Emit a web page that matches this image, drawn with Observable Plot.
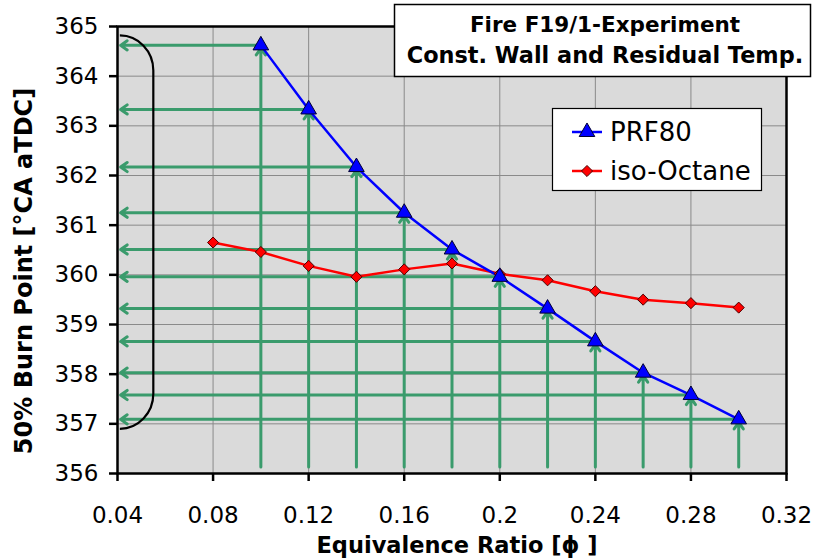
<!DOCTYPE html>
<html>
<head>
<meta charset="utf-8">
<script src="https://cdn.jsdelivr.net/npm/d3@7"></script>
<script src="https://cdn.jsdelivr.net/npm/@observablehq/plot@0.6"></script>
<style>
  html, body { margin: 0; padding: 0; background: #fff; }
  #wrap { position: relative; width: 813px; height: 558px; overflow: hidden; }
  #wrap > svg { position: absolute; left: 0; top: 0; }
</style>
</head>
<body>
<div id="wrap"></div>
<script>
// ---- data ----
const prfPhi = [0.10, 0.12, 0.14, 0.16, 0.18, 0.20, 0.22, 0.24, 0.26, 0.28, 0.30];
const prf80 = [364.62, 363.33, 362.17, 361.25, 360.51, 359.96, 359.32, 358.66, 358.03, 357.58, 357.09];
const isoPhi = [0.08, 0.10, 0.12, 0.14, 0.16, 0.18, 0.20, 0.22, 0.24, 0.26, 0.28, 0.30];
const isoOctane = [360.65, 360.46, 360.18, 359.96, 360.11, 360.23, 360.02, 359.89, 359.67, 359.50, 359.43, 359.34];
const xTicks = [0.04, 0.08, 0.12, 0.16, 0.20, 0.24, 0.28, 0.32];
const yTicks = [356, 357, 358, 359, 360, 361, 362, 363, 364, 365];
const seriesNames = ["PRF80", "iso-Octane"];
const titleLines = ["Fire F19/1-Experiment", "Const. Wall and Residual Temp."];
const xLabel = "Equivalence Ratio [\u03D5 ]";
const yLabel = "50% Burn Point [\u00B0CA aTDC]";
// annotation extents (data units)
const arrowBaseY = 356.13;   // start of vertical arrows
const arrowTipX = 0.0413;    // end of horizontal arrows
const bracketTop = 364.81, bracketBottom = 356.89, bracketLeft = 0.0412, bracketRight = 0.0552;

const prfData = prfPhi.map((x, i) => ({x, y: prf80[i]}));
const isoData = isoPhi.map((x, i) => ({x, y: isoOctane[i]}));

const green = "#3a9b6c";
const FONT = "DejaVu Sans, sans-serif";

const bracketMark = Plot.dot([0], {
  x: () => 0, y: () => 0,
  render: (I, scales) => {
    const {x, y} = scales;
    const x0 = x(bracketLeft), x1 = x(bracketRight);
    const yt = y(bracketTop), yb = y(bracketBottom);
    const rx = x1 - x0, ry = 35;
    const p = d3.path();
    p.moveTo(x0, yt);
    p.bezierCurveTo(x0 + rx * 0.55, yt, x1, yt + ry * 0.45, x1, yt + ry);
    p.lineTo(x1, yb - ry);
    p.bezierCurveTo(x1, yb - ry * 0.45, x0 + rx * 0.55, yb, x0, yb);
    return d3.create("svg:path")
      .attr("d", p.toString())
      .attr("fill", "none")
      .attr("stroke", "#000")
      .attr("stroke-width", 2.2)
      .node();
  }
});

const chart = Plot.plot({
  width: 813,
  height: 558,
  marginLeft: 117,
  marginRight: 27,
  marginTop: 26,
  marginBottom: 85,
  style: {fontFamily: FONT, fontSize: "23px", color: "#000", background: "transparent", overflow: "visible"},
  x: {domain: [0.04, 0.32]},
  y: {domain: [356, 365]},
  marks: [
    Plot.frame({fill: "#dadada"}),
    Plot.gridX(xTicks, {stroke: "#8a8a8a", strokeOpacity: 1, strokeWidth: 1}),
    Plot.gridY(yTicks, {stroke: "#8a8a8a", strokeOpacity: 1, strokeWidth: 1}),
    Plot.arrow(prfData, {x1: "x", x2: "x", y1: () => arrowBaseY, y2: "y", stroke: green, strokeWidth: 3, headLength: 4, headAngle: 70, insetEnd: 3}),
    Plot.arrow(prfData, {x1: "x", x2: () => arrowTipX, y1: "y", y2: "y", stroke: green, strokeWidth: 3, headLength: 4, headAngle: 70}),
    bracketMark,
    Plot.frame({stroke: "#000", strokeWidth: 2.5}),
    Plot.axisX(xTicks, {tickSize: 8, tickPadding: 25, strokeWidth: 2.5, fontSize: 23, tickFormat: d3.format("~g"), label: null}),
    Plot.axisY(yTicks, {tickSize: 8, tickPadding: 11, strokeWidth: 2.5, fontSize: 23, tickFormat: d3.format("d"), label: null}),
    Plot.line(isoData, {x: "x", y: "y", stroke: "#ff0000", strokeWidth: 2.5}),
    Plot.line(prfData, {x: "x", y: "y", stroke: "#0000ff", strokeWidth: 2.5}),
    Plot.dot(isoData, {x: "x", y: "y", symbol: "diamond2", r: 5, fill: "#ff0000", stroke: "#4a0000", strokeWidth: 1}),
    Plot.dot(prfData, {x: "x", y: "y", symbol: "triangle", r: 5.8, fill: "#0000ff", stroke: "#000033", strokeWidth: 1}),
    Plot.text([xLabel], {text: d => d, frameAnchor: "bottom", textAnchor: "middle", lineAnchor: "bottom", dx: 5, dy: 79, fontSize: 22.5, fontWeight: "bold"}),
    Plot.text([yLabel], {text: d => d, frameAnchor: "left", textAnchor: "middle", lineAnchor: "middle", dx: -93, dy: 21, rotate: -90, fontSize: 24, fontWeight: "bold"})
  ]
});

const wrap = document.getElementById("wrap");
wrap.appendChild(chart);

// overlay: title box and legend
const ov = d3.select(wrap).append("svg")
  .attr("width", 813).attr("height", 558)
  .style("font-family", FONT)
  .style("pointer-events", "none");

ov.append("rect").attr("x", 394.5).attr("y", 4.5).attr("width", 416).attr("height", 72)
  .attr("fill", "#fff").attr("stroke", "#000").attr("stroke-width", 1.5);
ov.append("text").attr("x", 605).attr("y", 32).attr("text-anchor", "middle")
  .attr("font-size", 21.5).attr("font-weight", "bold").text(titleLines[0]);
ov.append("text").attr("x", 605).attr("y", 63).attr("text-anchor", "middle")
  .attr("font-size", 22.4).attr("font-weight", "bold").text(titleLines[1]);

ov.append("rect").attr("x", 552.5).attr("y", 108.5).attr("width", 209).attr("height", 82)
  .attr("fill", "#fff").attr("stroke", "#000").attr("stroke-width", 1.2);
const legendRows = [
  {name: seriesNames[0], color: "#0000ff", outline: "#000033", sym: d3.symbolTriangle, size: Math.PI * 5.8 * 5.8, y: 132},
  {name: seriesNames[1], color: "#ff0000", outline: "#4a0000", sym: d3.symbolDiamond2, size: Math.PI * 5 * 5, y: 171}
];
legendRows.forEach(r => {
  ov.append("line").attr("x1", 572).attr("x2", 602).attr("y1", r.y).attr("y2", r.y)
    .attr("stroke", r.color).attr("stroke-width", 2.5);
  ov.append("path").attr("d", d3.symbol(r.sym, r.size)())
    .attr("transform", `translate(587,${r.y})`)
    .attr("fill", r.color).attr("stroke", r.outline).attr("stroke-width", 1);
  ov.append("text").attr("x", 610).attr("y", r.y + 9).attr("font-size", 26).text(r.name);
});
</script>
</body>
</html>
